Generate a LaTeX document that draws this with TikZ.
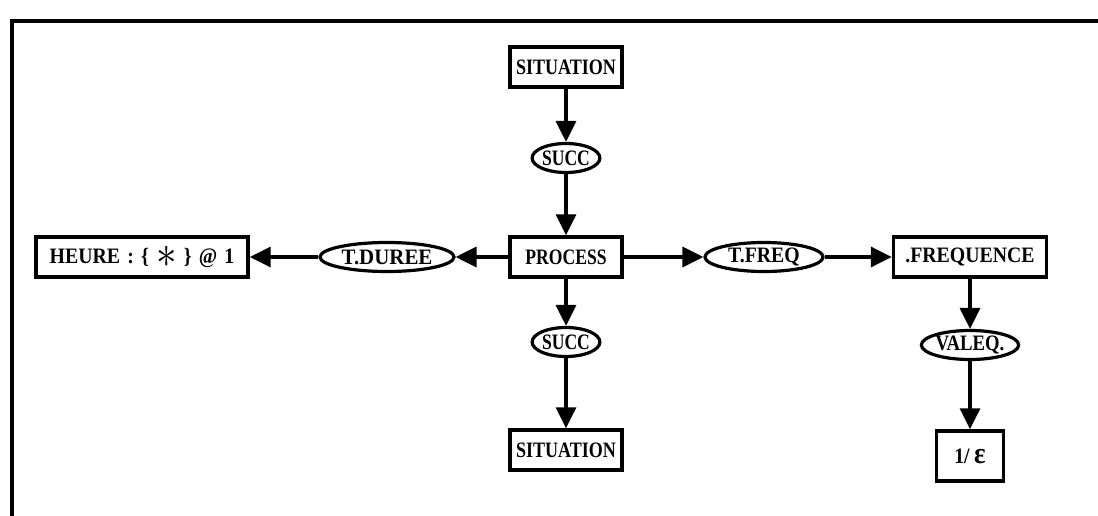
\documentclass[tikz,border=0pt]{standalone}
\usepackage{fontspec}
\usepackage{graphicx}
\setmainfont{Liberation Serif}
\usetikzlibrary{shapes.geometric,arrows.meta}
% narrow, tall lettering used for the labels (optional horizontal factor)
\newcommand{\lbl}[2][0.82]{\scalebox{#1}[1]{#2}}
\newcommand{\gap}{\hspace{8pt}}
\begin{document}
\begin{tikzpicture}[x=1pt,y=-1pt,
  every node/.style={font=\fontsize{22}{24}\selectfont\bfseries, inner sep=0pt},
  concept/.style={draw, line width=3.4pt, rectangle, minimum height=40pt},
  relation/.style={draw, line width=3.2pt, ellipse, minimum height=29pt},
  link/.style={line width=3.4pt, -{Triangle[length=21pt,width=20pt]}}
]
\useasboundingbox (0,0) rectangle (1098,516);
% frame (top and left edges only)
\draw[line width=3.5pt] (10,21) -- (1098,21);
\draw[line width=3.5pt] (12,19.5) -- (12,516);

% concept boxes
\node[concept, minimum width=112pt] (sit1) at (566,67) {\lbl{SITUATION}};
\node[concept, minimum width=112pt] (proc) at (566,257) {\lbl[0.8]{PROCESS}};
\node[concept, minimum width=112pt] (sit2) at (566,450) {\lbl{SITUATION}};
\node[concept, minimum width=212pt] (heure) at (142,257)
  {\lbl[0.9]{HEURE\gap:\gap\{\gap\raisebox{-4pt}{\scalebox{2.2}{$\ast$}}\gap\}\gap@\gap 1}};
\node[concept, minimum width=153pt] (freq) at (970,257) {\lbl[0.9]{.FREQUENCE}};
\node[concept, minimum width=67pt, minimum height=50pt] (inv) at (970,456)
  {\lbl[0.9]{1/\hspace{5pt}\fontsize{30}{30}\selectfont ε}};

% relation ellipses
\node[relation, minimum width=63pt] (succ1) at (566,158) {\lbl[0.8]{SUCC}};
\node[relation, minimum width=63pt] (succ2) at (566,342) {\lbl[0.8]{SUCC}};
\node[relation, minimum width=134pt] (dur) at (387,257) {\lbl[0.95]{T.DUREE}};
\node[relation, minimum width=118pt] (tfreq) at (764,257) {\lbl[0.9]{T.FREQ}};
\node[relation, minimum width=96pt] (valeq) at (970,345) {\lbl[0.85]{VALEQ.}};

% connectors
\draw[link] (sit1) -- (succ1);
\draw[link] (succ1) -- (proc);
\draw[link] (proc) -- (succ2);
\draw[link] (succ2) -- (sit2);
\draw[link] (proc) -- (dur);
\draw[link] (dur) -- (heure);
\draw[link] (proc) -- (tfreq);
\draw[link] (tfreq) -- (freq);
\draw[link] (freq) -- (valeq);
\draw[link] (valeq) -- (inv);
\end{tikzpicture}
\end{document}
